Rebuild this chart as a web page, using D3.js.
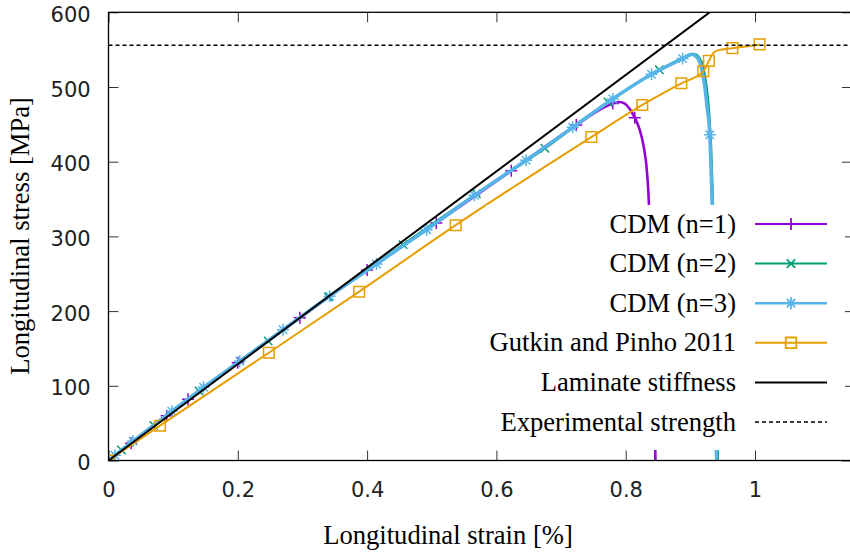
<!DOCTYPE html>
<html>
<head>
<meta charset="utf-8">
<script src="https://cdn.jsdelivr.net/npm/d3@7/dist/d3.min.js"></script>
<style>
  html, body { margin: 0; padding: 0; background: #ffffff; }
  svg { display: block; }
</style>
</head>
<body>
<svg id="chart" width="850" height="553"></svg>
<script>
// ---- data: longitudinal strain [%] vs longitudinal stress [MPa] ----
const cdm1 = [[0,0],[0.035,23],[0.09,60],[0.123,82],[0.2,131],[0.296,191],[0.4,255],[0.507,318],
  [0.623,388],[0.7236,449],[0.765,472],[0.78,478],[0.79,480],[0.798,478],[0.806,471],[0.814,459],
  [0.82,447],[0.825,432],[0.829,414],[0.832,395],[0.835,360],[0.838,300],[0.841,220],[0.844,120],[0.846,0]];
const cdm1Marks = [[0,0],[0.035,23],[0.09,60],[0.123,82],[0.2,131],[0.296,191],[0.4,255],[0.507,318],
  [0.623,388],[0.7236,449],[0.78,478],[0.814,459]];

const cdm2 = [[0,0],[0.02,14],[0.07,47],[0.14,93],[0.247,160],[0.34,219],[0.4556,289],[0.569,357],
  [0.675,418],[0.7725,480],[0.852,523],[0.895,541],[0.906,544],[0.914,539],[0.92,526],[0.925,500],
  [0.929,465],[0.932,420],[0.934,370],[0.936,310],[0.938,240],[0.9405,150],[0.9425,0]];
const cdm2Marks = [[0,0],[0.02,14],[0.07,47],[0.14,93],[0.247,160],[0.34,219],[0.4556,289],[0.569,357],
  [0.675,418],[0.7725,480],[0.852,523]];

const cdm3 = [[0,0],[0.01,7],[0.038,26],[0.098,66],[0.147,98],[0.203,133],[0.27,175],[0.342,220],
  [0.4145,263],[0.492,309],[0.566,355],[0.646,402],[0.718,446],[0.78,484],[0.84,517],[0.888,538],
  [0.902,544],[0.911,539],[0.917,526],[0.922,502],[0.926,472],[0.93,436],[0.932,390],[0.934,335],
  [0.936,260],[0.938,160],[0.9405,0]];
const cdm3Marks = [[0,0],[0.01,7],[0.038,26],[0.098,66],[0.147,98],[0.203,133],[0.27,175],[0.342,220],
  [0.4145,263],[0.492,309],[0.566,355],[0.646,402],[0.718,446],[0.78,484],[0.84,517],[0.888,538],[0.93,436]];

const gutkin = [[0,0],[0.0796,46.6],[0.248,144.3],[0.3877,226],[0.537,315],[0.7468,433],[0.8257,476],
  [0.886,505],[0.92,521],[0.9286,535],[0.935,545],[0.9425,549],[0.965,552],[1.007,557]];
const gutkinMarks = [[0,0],[0.0796,46.6],[0.248,144.3],[0.3877,226],[0.537,315],[0.7468,433],[0.8257,476],
  [0.886,505],[0.92,521],[0.9286,535],[0.965,552],[1.007,557]];

const laminate = [[0,0],[1.15,742]];          // laminate stiffness, ~645 MPa per % strain
const experimentalStrength = 556;             // MPa

const strainTicks = [0, 0.2, 0.4, 0.6, 0.8, 1];
const strainTickLabels = ["0", "0.2", "0.4", "0.6", "0.8", "1"];
const stressTicks = [0, 100, 200, 300, 400, 500, 600];
const stressTickLabels = ["0", "100", "200", "300", "400", "500", "600"];

const legendLabels = ["CDM (n=1)", "CDM (n=2)", "CDM (n=3)", "Gutkin and Pinho 2011",
  "Laminate stiffness", "Experimental strength"];

// ---- layout ----
const svg = d3.select("#chart");
const plot = { left: 108.5, top: 12.3, right: 852, bottom: 460.5 };

const x = d3.scaleLinear().domain([0, 1.15]).range([plot.left, plot.right]);
const y = d3.scaleLinear().domain([0, 600]).range([plot.bottom, plot.top]);

const tickFont = "'DejaVu Sans', sans-serif";
const textFont = "'Liberation Serif', 'Times New Roman', serif";
const textSize = "26.6px";

// ---- axes: inward ticks, mirrored on top and right ----
function styleAxis(g) {
  g.select(".domain").remove();
  g.selectAll(".tick line").attr("stroke", "#333").attr("stroke-width", 1);
  g.selectAll(".tick text").attr("fill", "#222").style("font-family", tickFont).style("font-size", "21px");
}

svg.append("g")
  .attr("transform", `translate(0,${plot.bottom})`)
  .call(d3.axisBottom(x).tickValues(strainTicks).tickSize(-10).tickPadding(21.5)
    .tickFormat((d, i) => strainTickLabels[i]))
  .call(styleAxis);

svg.append("g")
  .attr("transform", `translate(0,${plot.top})`)
  .call(d3.axisTop(x).tickValues(strainTicks).tickSize(-10).tickFormat(""))
  .call(styleAxis);

const yAxisG = svg.append("g")
  .attr("transform", `translate(${plot.left},0)`)
  .call(d3.axisLeft(y).tickValues(stressTicks).tickSize(-10).tickPadding(17.8)
    .tickFormat((d, i) => stressTickLabels[i]))
  .call(styleAxis);
yAxisG.selectAll(".tick text").attr("dy", "0.43em");

svg.append("g")
  .attr("transform", `translate(${plot.right},0)`)
  .call(d3.axisRight(y).tickValues(stressTicks).tickSize(-10).tickFormat(""))
  .call(styleAxis);

// ---- clipping for curves ----
svg.append("clipPath").attr("id", "plot-clip")
  .append("rect")
  .attr("x", plot.left).attr("y", plot.top)
  .attr("width", plot.right - plot.left).attr("height", plot.bottom - plot.top);

const curves = svg.append("g").attr("clip-path", "url(#plot-clip)");

const smoothLine = d3.line().x(d => x(d[0])).y(d => y(d[1])).curve(d3.curveMonotoneX);
const straightLine = d3.line().x(d => x(d[0])).y(d => y(d[1]));

// point symbols
const symbolPath = {
  plus:   "M-6,0H6M0,-6V6",
  cross:  "M-4.2,-4.2L4.2,4.2M-4.2,4.2L4.2,-4.2",
  star:   "M-6,0H6M0,-6V6M-4.2,-4.2L4.2,4.2M-4.2,4.2L4.2,-4.2",
  square: "M-5.3,-5.3H5.3V5.3H-5.3Z"
};

const series = [
  { data: cdm1, marks: cdm1Marks, color: "#9400d3", width: 2.6, symbol: "plus" },
  { data: cdm2, marks: cdm2Marks, color: "#009e73", width: 2.4, symbol: "cross" },
  { data: cdm3, marks: cdm3Marks, color: "#56b4e9", width: 3.5, symbol: "star" },
  { data: gutkin, marks: gutkinMarks, color: "#e69f00", width: 2, symbol: "square" }
];

series.forEach(s => {
  curves.append("path")
    .attr("d", smoothLine(s.data))
    .attr("fill", "none")
    .attr("stroke", s.color)
    .attr("stroke-width", s.width)
    .attr("stroke-linejoin", "round");
  curves.selectAll(null)
    .data(s.marks)
    .enter().append("path")
    .attr("transform", d => `translate(${x(d[0])},${y(d[1])})`)
    .attr("d", symbolPath[s.symbol])
    .attr("fill", "none")
    .attr("stroke", s.color)
    .attr("stroke-width", 1.5);
});

// laminate stiffness
curves.append("path")
  .attr("d", straightLine(laminate))
  .attr("fill", "none")
  .attr("stroke", "#000")
  .attr("stroke-width", 2);

// experimental strength
curves.append("line")
  .attr("x1", plot.left).attr("x2", plot.right)
  .attr("y1", y(experimentalStrength)).attr("y2", y(experimentalStrength))
  .attr("stroke", "#000")
  .attr("stroke-width", 1.5)
  .attr("stroke-dasharray", "4,3");

// ---- border ----
svg.append("rect")
  .attr("x", plot.left).attr("y", plot.top)
  .attr("width", plot.right - plot.left).attr("height", plot.bottom - plot.top)
  .attr("fill", "none").attr("stroke", "#000").attr("stroke-width", 1.3);

// ---- key (opaque) ----
const key = svg.append("g");
key.append("rect")
  .attr("x", 486).attr("y", 205).attr("width", 359).attr("height", 245)
  .attr("fill", "#fff");

const keyStyles = [
  { color: "#9400d3", width: 2, symbol: "plus" },
  { color: "#009e73", width: 2, symbol: "cross" },
  { color: "#56b4e9", width: 2.4, symbol: "star" },
  { color: "#e69f00", width: 2, symbol: "square" },
  { color: "#000", width: 2, symbol: null },
  { color: "#000", width: 1.5, symbol: null, dash: "4,3" }
];

legendLabels.forEach((label, i) => {
  const cy = 224 + i * 39.6;
  const st = keyStyles[i];
  key.append("text")
    .attr("x", 736).attr("y", cy + 8.5)
    .attr("text-anchor", "end")
    .style("font-family", textFont).style("font-size", textSize)
    .attr("fill", "#000")
    .text(label);
  key.append("line")
    .attr("x1", 755).attr("x2", 827).attr("y1", cy).attr("y2", cy)
    .attr("stroke", st.color).attr("stroke-width", st.width)
    .attr("stroke-dasharray", st.dash || null);
  if (st.symbol) {
    key.append("path")
      .attr("transform", `translate(791,${cy})`)
      .attr("d", symbolPath[st.symbol])
      .attr("fill", "none").attr("stroke", st.color).attr("stroke-width", 1.8);
  }
});

// ---- axis titles ----
svg.append("text")
  .attr("x", 448).attr("y", 544)
  .attr("text-anchor", "middle")
  .style("font-family", textFont).style("font-size", textSize)
  .text("Longitudinal strain [%]");

svg.append("text")
  .attr("transform", `translate(28.5,236) rotate(-90)`)
  .attr("text-anchor", "middle")
  .style("font-family", textFont).style("font-size", textSize)
  .text("Longitudinal stress [MPa]");
</script>
</body>
</html>
